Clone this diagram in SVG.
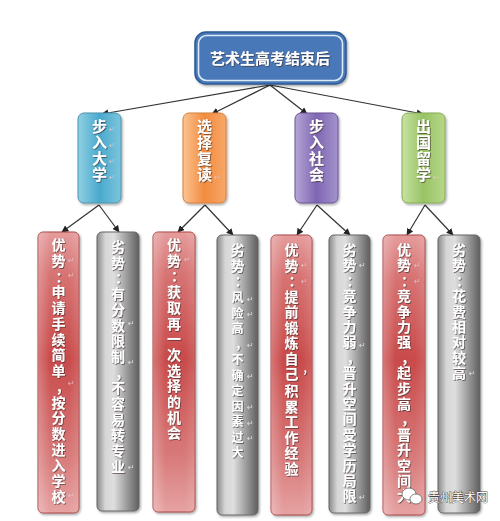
<svg xmlns="http://www.w3.org/2000/svg" width="500" height="521" viewBox="0 0 500 521">
<style>
.t{font-family:"Noto Sans CJK SC","Noto Sans",sans-serif;font-weight:bold;fill:#fff;text-anchor:middle;filter:url(#ts)}
.tb{font-size:14px}
.ts{font-size:12px}
.tm{font-size:15px}
.rm{font-family:"DejaVu Sans",sans-serif;font-size:8px;fill:#e8c8c8;opacity:.8}
.rg{font-family:"DejaVu Sans",sans-serif;font-size:8px;fill:#f0f0f0;opacity:.8}
.c{stroke:#333;stroke-width:1.2;fill:none;marker-end:url(#ah)}
.red{fill:url(#gr);stroke:#a94545;stroke-width:1}
.gry{fill:url(#gg);stroke:#666;stroke-width:1}
.hl{fill:url(#gh);stroke:none}
.mb{filter:url(#bs)}
</style>
<defs>
<marker id="ah" viewBox="0 0 10 10" refX="9" refY="5" markerWidth="7" markerHeight="7" orient="auto" markerUnits="userSpaceOnUse">
<path d="M0,0 L10,5 L0,10 z" fill="#222"/>
</marker>
<filter id="ts" x="-30%" y="-30%" width="160%" height="160%">
<feDropShadow dx="0.8" dy="0.8" stdDeviation="0.5" flood-color="#3a2a2a" flood-opacity="0.75"/>
</filter>
<filter id="bs" x="-20%" y="-10%" width="140%" height="120%">
<feDropShadow dx="1.2" dy="1.5" stdDeviation="1" flood-color="#000" flood-opacity="0.35"/>
</filter>
<linearGradient id="gr" x1="0" y1="0" x2="0" y2="1">
<stop offset="0" stop-color="#e59c9c"/>
<stop offset="0.15" stop-color="#d77373"/>
<stop offset="0.45" stop-color="#c94a4a"/>
<stop offset="0.8" stop-color="#d87a7a"/>
<stop offset="1" stop-color="#e6a2a2"/>
</linearGradient>
<linearGradient id="gh" x1="0" y1="0" x2="1" y2="0">
<stop offset="0" stop-color="#fff" stop-opacity="0.25"/>
<stop offset="0.3" stop-color="#fff" stop-opacity="0"/>
<stop offset="0.75" stop-color="#fff" stop-opacity="0"/>
<stop offset="1" stop-color="#fff" stop-opacity="0.12"/>
</linearGradient>
<linearGradient id="gg" x1="0" y1="0" x2="1" y2="0">
<stop offset="0" stop-color="#8a8a8a"/>
<stop offset="0.2" stop-color="#d6d6d6"/>
<stop offset="0.4" stop-color="#dedede"/>
<stop offset="1" stop-color="#5e5e5e"/>
</linearGradient>
<linearGradient id="gb" x1="0" y1="0" x2="1" y2="0">
<stop offset="0" stop-color="#8fd0e3"/><stop offset="0.5" stop-color="#4aa9cd"/><stop offset="1" stop-color="#7cc5dc"/>
</linearGradient>
<linearGradient id="go" x1="0" y1="0" x2="1" y2="0">
<stop offset="0" stop-color="#fbc492"/><stop offset="0.5" stop-color="#f28b3f"/><stop offset="1" stop-color="#f7a868"/>
</linearGradient>
<linearGradient id="gp" x1="0" y1="0" x2="1" y2="0">
<stop offset="0" stop-color="#b5a6d6"/><stop offset="0.5" stop-color="#7f66b2"/><stop offset="1" stop-color="#a393cc"/>
</linearGradient>
<linearGradient id="gn" x1="0" y1="0" x2="1" y2="0">
<stop offset="0" stop-color="#c8e2a2"/><stop offset="0.5" stop-color="#98c364"/><stop offset="1" stop-color="#b7d789"/>
</linearGradient>
</defs>
<rect width="500" height="521" fill="#fff"/>

<g id="connectors">
<path class="c" d="M270,85 L102,114"/>
<path class="c" d="M270,85 L212,114"/>
<path class="c" d="M270,85 L307,114"/>
<path class="c" d="M270,85 L423,114"/>
<path class="c" d="M99,205 L62,232"/>
<path class="c" d="M99,205 L119,232"/>
<path class="c" d="M205,205 L178,232"/>
<path class="c" d="M205,205 L233,235"/>
<path class="c" d="M317,205 L297,235"/>
<path class="c" d="M317,205 L350,235"/>
<path class="c" d="M425,205 L407,235"/>
<path class="c" d="M425,205 L453,235"/>
</g>

<g id="root">
<rect x="195" y="32" width="151" height="52" rx="11" fill="#4a78b8" stroke="#2f5a93" stroke-width="1.5" class="mb"/>
<rect x="198.5" y="35.5" width="144" height="45" rx="8" fill="none" stroke="#dce9f7" stroke-width="1.6"/>
<text class="t" x="270" y="63.5" font-size="15">艺术生高考结束后</text>
</g>

<g id="m1">
<rect x="78" y="113" width="43" height="90" rx="6" fill="url(#gb)" stroke="#4c93b0" class="mb"/>
<text class="t tm" x="99.5 99.5 99.5 99.5" y="132 148 164 180">步入大学</text>
<text class="rm" x="109 109 109 109" y="132 148 164 180">↵↵↵↵</text>
</g>
<g id="m2">
<rect x="183" y="113" width="43" height="90" rx="6" fill="url(#go)" stroke="#d6803e" class="mb"/>
<text class="t tm" x="204.5 204.5 204.5 204.5" y="132 148 164 180">选择复读</text>
<text class="rm" x="214" y="180">↵</text>
</g>
<g id="m3">
<rect x="295" y="113" width="43" height="90" rx="6" fill="url(#gp)" stroke="#6a559a" class="mb"/>
<text class="t tm" x="316.5 316.5 316.5 316.5" y="132 148 164 180">步入社会</text>
</g>
<g id="m4">
<rect x="402" y="113" width="43" height="90" rx="6" fill="url(#gn)" stroke="#86ad57" class="mb"/>
<text class="t tm" x="423.5 423.5 423.5 423.5" y="132 148 164 180">出国留学</text>
<text class="rm" x="433" y="180">↵</text>
</g>

<g id="b1">
<rect class="red mb" x="38" y="232" width="41" height="281" rx="5"/>
<rect class="hl" x="38" y="232" width="41" height="281" rx="5"/>
<text class="t tb" x="58.5 58.5 62.5 58.5 58.5 58.5 58.5 58.5 58.5 62.5 58.5 58.5 58.5 58.5 58.5 58.5 58.5" y="250 265.75 281.5 297.25 313 328.75 344.5 360.25 376 391.75 407.5 423.25 439 454.75 470.5 486.25 502">优势：申请手续简单，按分数进入学校</text>
<text class="rm" x="68 68 68 68" y="263 278 386 498">↵↵↵↵</text>
</g>
<g id="b2">
<rect class="gry mb" x="97" y="232" width="42" height="279" rx="5"/>
<text class="t tb" x="118 118 122 118 118 118 118 118 122 118 118 118 118 118 118" y="252 267.7 283.4 299.1 314.8 330.5 346.2 361.9 377.6 393.3 409 424.7 440.4 456.1 471.8">劣势：有分数限制，不容易转专业</text>
<text class="rg" x="128 128 128" y="326 365 470">↵↵↵</text>
</g>
<g id="b3">
<rect class="red mb" x="153" y="232" width="42" height="280" rx="5"/>
<rect class="hl" x="153" y="232" width="42" height="280" rx="5"/>
<text class="t tb" x="174 174 178 174 174 174 174 174 174 174 174 174 174" y="250 265.7 281.4 297.1 312.8 328.5 344.2 359.9 375.6 391.3 407 422.7 438.4">优势：获取再一次选择的机会</text>
<text class="rm" x="184" y="262">↵</text>
</g>
<g id="b4">
<rect class="gry mb" x="217" y="235" width="41" height="280" rx="5"/>
<text class="t tb" x="237.5 237.5 241.5" y="255 270.5 286">劣势：</text>
<text class="t ts" x="237.5 237.5 237.5 241 237.5 237.5 237.5 237.5 237.5 237.5 237.5" y="302 317.5 333 348.5 364 379.5 395 410.5 426 441.5 457">风险高，不确定因素过大</text>
<text class="rg" x="247 247 247 247 247 247 247" y="302 317 348 379 410 426 441">↵↵↵↵↵↵↵</text>
</g>
<g id="b5">
<rect class="red mb" x="271" y="235" width="41" height="280" rx="5"/>
<rect class="hl" x="271" y="235" width="41" height="280" rx="5"/>
<text class="t tb" x="291.5 291.5 295.5 291.5 291.5 291.5 291.5 291.5 291.5" y="255 270.5 286 301.5 317 332.5 348 363.5 379">优势：提前锻炼自己</text>
<text class="t" x="305" y="372" font-size="10">,</text>
<text class="t tb" x="291.5 291.5 291.5 291.5 291.5 291.5" y="396 411.5 427 442.5 458 473.5">积累工作经验</text>
<text class="rm" x="301 301" y="268 284">↵↵</text>
</g>
<g id="b6">
<rect class="gry mb" x="329" y="235" width="41" height="278" rx="5"/>
<text class="t tb" x="349.5 349.5 353.5 349.5 349.5 349.5 349.5 353.5 349.5 349.5 349.5 349.5 349.5 349.5 349.5 349.5 349.5" y="255 270.4 285.8 301.2 316.6 332 347.4 362.8 378.2 393.6 409 424.4 439.8 455.2 470.6 486 501.4">劣势：竞争力弱，晋升空间受学历局限</text>
<text class="rg" x="359 359 359" y="268 348 500">↵↵↵</text>
</g>
<g id="b7">
<rect class="red mb" x="383" y="235" width="42" height="280" rx="5"/>
<rect class="hl" x="383" y="235" width="42" height="280" rx="5"/>
<text class="t tb" x="404 404 408 404 404 404 404 408 404 404 404 408 404 404 404 404 404" y="255 270.4 285.8 301.2 316.6 332 347.4 362.8 378.2 393.6 409 424.4 439.8 455.2 470.6 486 501.4">优势：竞争力强，起步高，晋升空间大</text>
<text class="rm" x="414 414" y="268 284">↵↵</text>
</g>
<g id="b8">
<rect class="gry mb" x="438" y="235" width="42" height="278" rx="5"/>
<text class="t tb" x="459 459 463 459 459 459 459 459 459" y="255 270.4 285.8 301.2 316.6 332 347.4 362.8 378.2">劣势：花费相对较高</text>
<text class="rg" x="469" y="376">↵</text>
</g>

<g id="watermark">
<ellipse cx="409" cy="494" rx="7" ry="6" fill="#fff" stroke="#666" stroke-width="0.8"/>
<ellipse cx="416" cy="499" rx="6" ry="5" fill="#fff" stroke="#666" stroke-width="0.8"/>
<text x="428" y="502" font-family="Noto Sans CJK SC,sans-serif" font-size="12" fill="#fff" stroke="#444" stroke-width="0.8" paint-order="stroke">贵州美术网</text>
</g>
</svg>
